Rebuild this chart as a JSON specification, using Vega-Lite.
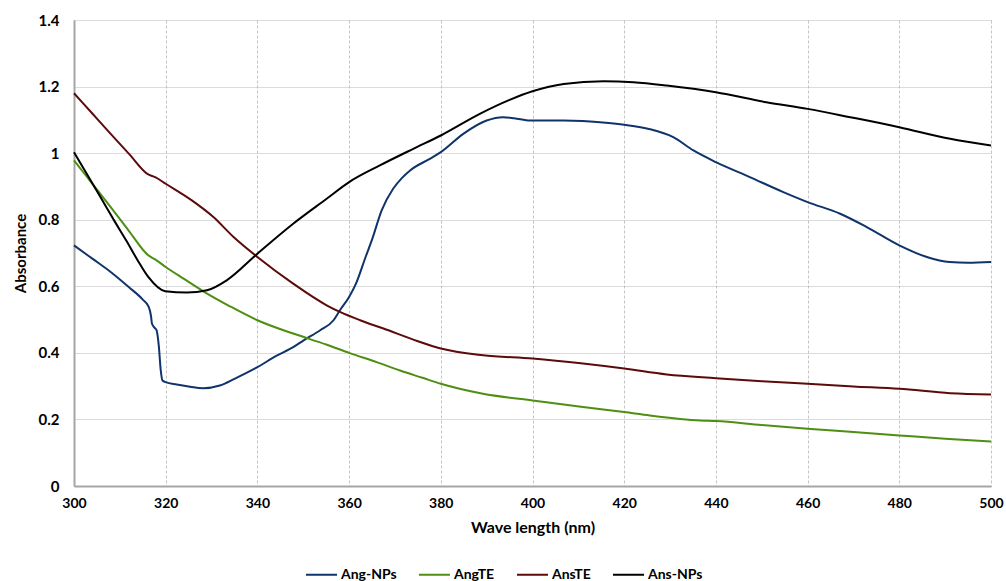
{
  "$schema": "https://vega.github.io/schema/vega-lite/v6.json",
  "width": 917,
  "height": 466,
  "autosize": "none",
  "padding": {"left": 74, "top": 20, "right": 15, "bottom": 95},
  "background": "white",
  "config": {"view": {"stroke": null}, "font": "Lato"},
  "datasets": {
    "ang_nps": [
      {"x":300,"y":0.723},{"x":304,"y":0.683},{"x":308,"y":0.643},{"x":312,"y":0.597},{"x":315,"y":0.56},{"x":316.3,"y":0.538},{"x":316.8,"y":0.51},{"x":317,"y":0.488},{"x":317.6,"y":0.475},{"x":318,"y":0.468},{"x":318.5,"y":0.42},{"x":318.9,"y":0.35},{"x":319.3,"y":0.317},{"x":320,"y":0.312},{"x":322.4,"y":0.305},{"x":325,"y":0.299},{"x":328.2,"y":0.294},{"x":331.8,"y":0.302},{"x":335,"y":0.322},{"x":340,"y":0.357},{"x":344,"y":0.39},{"x":347.8,"y":0.417},{"x":350,"y":0.437},{"x":353.7,"y":0.468},{"x":356.6,"y":0.498},{"x":358,"y":0.528},{"x":360,"y":0.568},{"x":361.5,"y":0.608},{"x":363.6,"y":0.688},{"x":365,"y":0.74},{"x":367.1,"y":0.828},{"x":369.6,"y":0.893},{"x":371.5,"y":0.925},{"x":373.3,"y":0.948},{"x":377.6,"y":0.983},{"x":380,"y":1.003},{"x":384.9,"y":1.058},{"x":390,"y":1.098},{"x":393.6,"y":1.108},{"x":396,"y":1.105},{"x":399.5,"y":1.098},{"x":406.8,"y":1.098},{"x":416,"y":1.091},{"x":420,"y":1.085},{"x":425.6,"y":1.072},{"x":430.7,"y":1.048},{"x":435.1,"y":1.008},{"x":440,"y":0.973},{"x":447.4,"y":0.928},{"x":454.7,"y":0.883},{"x":460,"y":0.853},{"x":467.1,"y":0.818},{"x":472.9,"y":0.778},{"x":480,"y":0.723},{"x":486,"y":0.688},{"x":491,"y":0.673},{"x":495,"y":0.671},{"x":500,"y":0.673}
    ],
    "angte": [
      {"x":300,"y":0.978},{"x":304,"y":0.908},{"x":308,"y":0.838},{"x":312,"y":0.766},{"x":316.2,"y":0.693},{"x":318,"y":0.678},{"x":320,"y":0.658},{"x":324,"y":0.622},{"x":328.2,"y":0.585},{"x":334,"y":0.54},{"x":340,"y":0.498},{"x":347.8,"y":0.458},{"x":355,"y":0.425},{"x":360,"y":0.4},{"x":366,"y":0.372},{"x":371.1,"y":0.347},{"x":376,"y":0.325},{"x":380,"y":0.307},{"x":389.2,"y":0.277},{"x":400,"y":0.257},{"x":411,"y":0.237},{"x":420,"y":0.222},{"x":425.6,"y":0.212},{"x":436.6,"y":0.197},{"x":440,"y":0.195},{"x":450,"y":0.183},{"x":460,"y":0.172},{"x":470,"y":0.162},{"x":480,"y":0.152},{"x":490,"y":0.142},{"x":500,"y":0.134}
    ],
    "anste": [
      {"x":300,"y":1.18},{"x":304,"y":1.119},{"x":308,"y":1.058},{"x":312,"y":0.998},{"x":316.2,"y":0.936},{"x":317.7,"y":0.928},{"x":320,"y":0.908},{"x":325.7,"y":0.858},{"x":330.4,"y":0.808},{"x":334.8,"y":0.748},{"x":340,"y":0.688},{"x":347.8,"y":0.608},{"x":355.1,"y":0.543},{"x":358,"y":0.523},{"x":362.4,"y":0.498},{"x":367.5,"y":0.473},{"x":375,"y":0.435},{"x":380,"y":0.413},{"x":389.2,"y":0.393},{"x":400,"y":0.383},{"x":411,"y":0.368},{"x":420,"y":0.353},{"x":429.3,"y":0.335},{"x":440,"y":0.324},{"x":450,"y":0.315},{"x":460,"y":0.307},{"x":470,"y":0.299},{"x":480,"y":0.292},{"x":491.1,"y":0.279},{"x":500,"y":0.275}
    ],
    "ans_nps": [
      {"x":300,"y":1.003},{"x":303,"y":0.933},{"x":306.4,"y":0.853},{"x":309,"y":0.792},{"x":311.5,"y":0.735},{"x":313.8,"y":0.68},{"x":316.2,"y":0.628},{"x":319.9,"y":0.585},{"x":324.6,"y":0.581},{"x":329,"y":0.588},{"x":333.3,"y":0.618},{"x":340,"y":0.698},{"x":347.8,"y":0.788},{"x":355.1,"y":0.863},{"x":360,"y":0.913},{"x":366.7,"y":0.963},{"x":374,"y":1.013},{"x":380,"y":1.053},{"x":388.5,"y":1.118},{"x":395,"y":1.16},{"x":400,"y":1.186},{"x":406.8,"y":1.208},{"x":415.5,"y":1.216},{"x":422,"y":1.213},{"x":429.3,"y":1.203},{"x":440,"y":1.183},{"x":451,"y":1.153},{"x":460,"y":1.133},{"x":469.3,"y":1.108},{"x":480,"y":1.078},{"x":491.1,"y":1.043},{"x":500,"y":1.023}
    ]
  },
  "layer": [
    {
      "data": {"name": "ang_nps"},
      "transform": [{"calculate": "'Ang-NPs'", "as": "series"}],
      "mark": {"type": "line", "interpolate": "monotone", "strokeWidth": 2}
    },
    {
      "data": {"name": "angte"},
      "transform": [{"calculate": "'AngTE'", "as": "series"}],
      "mark": {"type": "line", "interpolate": "monotone", "strokeWidth": 2}
    },
    {
      "data": {"name": "anste"},
      "transform": [{"calculate": "'AnsTE'", "as": "series"}],
      "mark": {"type": "line", "interpolate": "monotone", "strokeWidth": 2}
    },
    {
      "data": {"name": "ans_nps"},
      "transform": [{"calculate": "'Ans-NPs'", "as": "series"}],
      "mark": {"type": "line", "interpolate": "monotone", "strokeWidth": 2}
    }
  ],
  "encoding": {
    "x": {
      "field": "x", "type": "quantitative",
      "scale": {"domain": [300, 500], "nice": false, "zero": false},
      "axis": {
        "title": "Wave length (nm)",
        "values": [300, 320, 340, 360, 380, 400, 420, 440, 460, 480, 500],
        "grid": true, "gridDash": [3, 2], "gridColor": "#c4c4c4", "gridWidth": 1,
        "domainColor": "#a6a6a6", "domainWidth": 2, "ticks": false,
        "labelFlush": false, "labelOverlap": false,
        "labelFont": "Lato", "labelFontWeight": "bold", "labelFontSize": 14, "labelColor": "#000000", "labelPadding": 10,
        "titleFont": "Lato", "titleFontWeight": "bold", "titleFontSize": 16, "titleColor": "#000000", "titlePadding": 9
      }
    },
    "y": {
      "field": "y", "type": "quantitative",
      "scale": {"domain": [0, 1.4], "nice": false},
      "axis": {
        "title": "Absorbance",
        "values": [0, 0.2, 0.4, 0.6, 0.8, 1, 1.2, 1.4],
        "format": "~g",
        "grid": true, "gridDash": [1, 1], "gridColor": "#b8b8b8", "gridWidth": 1,
        "domainColor": "#a6a6a6", "domainWidth": 2, "ticks": false,
        "labelFlush": false, "labelOverlap": false,
        "labelFont": "Lato", "labelFontWeight": "bold", "labelFontSize": 15, "labelColor": "#000000", "labelPadding": 15,
        "titleFont": "Lato", "titleFontWeight": "bold", "titleFontSize": 15, "titleColor": "#000000", "titlePadding": 10
      }
    },
    "color": {
      "field": "series", "type": "nominal",
      "scale": {"domain": ["Ang-NPs", "AngTE", "AnsTE", "Ans-NPs"], "range": ["#0f336b", "#4e8f12", "#5c0a0a", "#000000"]},
      "legend": {
        "title": null, "orient": "none", "legendX": 231, "legendY": 538, "direction": "horizontal", "columns": 4,
        "symbolType": "stroke", "symbolSize": 961, "symbolStrokeWidth": 2, "columnPadding": 18, "padding": 0,
        "labelFont": "Lato", "labelFontWeight": "bold", "labelFontSize": 14, "labelColor": "#000000", "labelOffset": 3
      }
    }
  }
}
